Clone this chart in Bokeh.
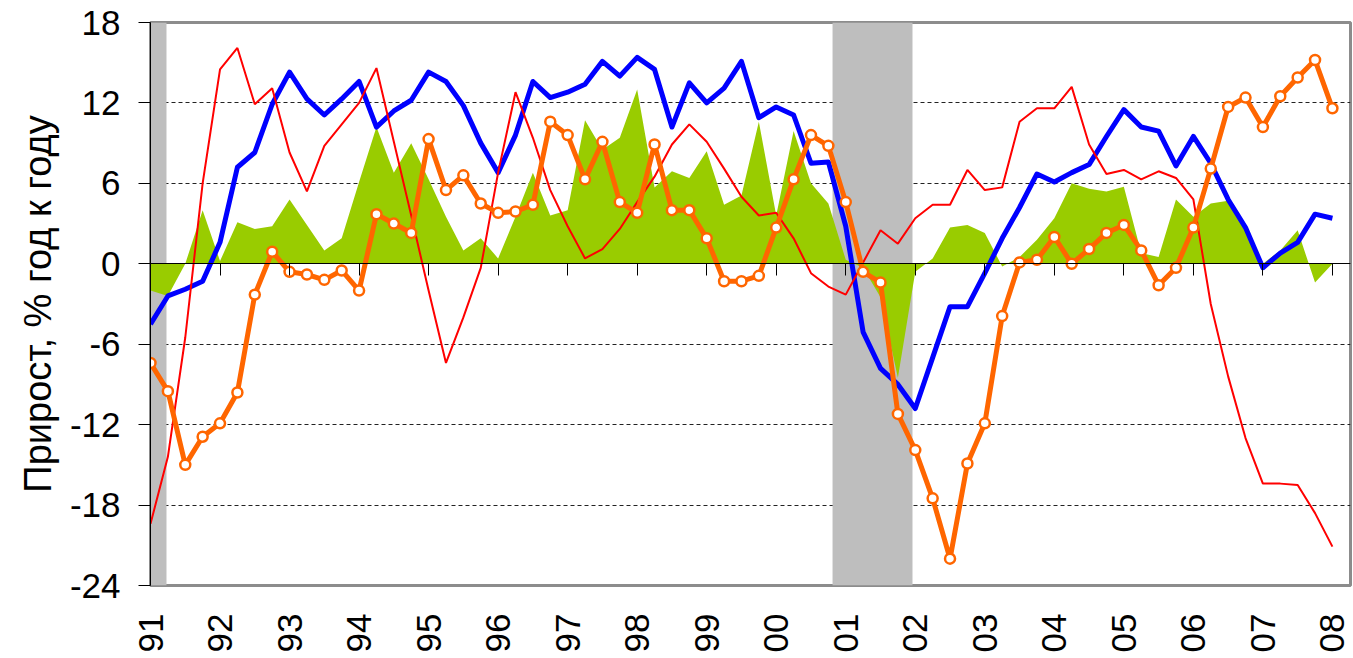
import math
from bokeh.plotting import figure
from bokeh.models import Range1d, FixedTicker, LinearAxis, BoxAnnotation
from bokeh.embed import file_html
from bokeh.resources import INLINE

# ---- data ----
year_ticks = list(range(1991, 2009))
year_labels = ["91", "92", "93", "94", "95", "96", "97", "98", "99", "00",
               "01", "02", "03", "04", "05", "06", "07", "08"]
y_ticks = [-24, -18, -12, -6, 0, 6, 12, 18]
y_labels = ["-24", "-18", "-12", "-6", "0", "6", "12", "18"]

recession_start = [1991.0, 2000.81]
recession_end = [1991.23, 2001.96]

green = [-2.0, -2.4, 0.0, 4.0, 0.2, 3.1, 2.6, 2.8, 4.8, 2.9, 1.0, 1.9, 6.1, 10.2,
         6.8, 9.0, 6.3, 3.5, 1.0, 1.9, 0.4, 3.5, 6.8, 3.6, 4.0, 10.7, 8.5, 9.4,
         13.0, 5.7, 6.9, 6.4, 8.4, 4.4, 5.1, 10.6, 3.6, 9.9, 6.0, 4.5, 0.3, -0.3,
         -2.5, -8.5, -0.6, 0.4, 2.7, 2.9, 2.3, -0.2, 0.5, 1.8, 3.4, 6.0, 5.6, 5.4,
         5.75, 0.8, 0.5, 4.8, 3.5, 4.5, 4.7, 2.6, 0.0, 1.0, 2.5, -1.4, 0.0]

blue = [-4.5, -2.4, -1.9, -1.3, 1.6, 7.2, 8.3, 11.9, 14.3, 12.3, 11.1, 12.3, 13.6, 10.2,
        11.4, 12.2, 14.3, 13.6, 11.8, 9.0, 6.8, 9.6, 13.6, 12.4, 12.8, 13.4, 15.1, 14.0,
        15.4, 14.5, 10.2, 13.5, 12.0, 13.1, 15.1, 10.9, 11.7, 11.1, 7.5, 7.6, 2.8, -5.1,
        -7.8, -9.0, -10.8, -7.0, -3.2, -3.2, -0.7, 1.9, 4.2, 6.7, 6.1, 6.8, 7.4, 9.5,
        11.5, 10.2, 9.9, 7.3, 9.5, 7.5, 4.8, 2.7, -0.3, 0.8, 1.6, 3.7, 3.4]

red = [-19.4, -14.4, -5.5, 6.0, 14.5, 16.1, 11.9, 13.1, 8.3, 5.4, 8.8, 10.4, 12.0, 14.6,
       9.1, 3.6, -2.0, -7.4, -4.0, -0.3, 6.8, 12.8, 9.4, 5.5, 2.8, 0.4, 1.1, 2.6,
       4.6, 6.5, 8.9, 10.4, 9.1, 7.1, 5.0, 3.6, 3.8, 1.9, -0.7, -1.7, -2.3, 0.1,
       2.5, 1.5, 3.4, 4.4, 4.4, 7.0, 5.5, 5.7, 10.6, 11.6, 11.6, 13.2, 8.9, 6.7,
       7.0, 6.3, 6.9, 6.4, 4.8, -3.0, -8.4, -13.0, -16.4, -16.4, -16.5, -18.6, -21.1]

orange = [-7.4, -9.5, -15.0, -12.9, -11.9, -9.6, -2.3, 0.9, -0.6, -0.8, -1.2, -0.5, -2.0, 3.7,
          3.0, 2.3, 9.3, 5.5, 6.6, 4.5, 3.8, 3.9, 4.4, 10.6, 9.6, 6.3, 9.1, 4.6,
          3.8, 8.9, 4.0, 4.0, 1.9, -1.3, -1.3, -0.9, 2.7, 6.3, 9.6, 8.8, 4.6, -0.6,
          -1.4, -11.2, -13.9, -17.5, -22.0, -14.9, -11.9, -3.9, 0.1, 0.3, 2.0, 0.0, 1.1, 2.3,
          2.9, 1.0, -1.6, -0.3, 2.7, 7.1, 11.7, 12.4, 10.2, 12.5, 13.9, 15.2, 11.6]

quarter = [1991 + k / 4 for k in range(len(blue))]

FONT = "Liberation Sans"

p = figure(width=1352, height=656, output_backend="svg", toolbar_location=None,
           x_range=Range1d(1991.0, 2008.26), y_range=Range1d(y_ticks[0], y_ticks[-1]),
           min_border_left=150, min_border_right=2, min_border_top=22, min_border_bottom=71,
           background_fill_color="white", border_fill_color="white")

p.outline_line_color = "#8c8c8c"
p.outline_line_width = 3

# recession bands
for s, e in zip(recession_start, recession_end):
    p.add_layout(BoxAnnotation(left=s, right=e, fill_color="#BEBEBE", fill_alpha=1.0,
                               line_color=None, level="underlay"))

# grid
p.xgrid.grid_line_color = None
p.ygrid.grid_line_color = "#222222"
p.ygrid.grid_line_dash = "4 3"
p.ygrid.grid_line_width = 1

# series
p.varea(x=quarter, y1=0, y2=green, fill_color="#99CC00")
p.line(quarter, blue, line_color="#0000FF", line_width=5, line_join="round")
p.line(quarter, red, line_color="#FF0000", line_width=2)
p.line(quarter, orange, line_color="#FF6600", line_width=5, line_join="round")
p.scatter(quarter, orange, size=10, fill_color="white", line_color="#FF6600", line_width=2.5)

# y axis
yax = p.yaxis[0]
yax.ticker = FixedTicker(ticks=y_ticks)
yax.major_label_overrides = {t: lab for t, lab in zip(y_ticks, y_labels)}
yax.major_tick_out = 12
yax.major_tick_in = 0
yax.minor_tick_line_color = None
yax.axis_line_color = "black"
yax.major_tick_line_color = "black"
yax.major_label_text_font = FONT
yax.major_label_text_font_size = "35px"
yax.major_label_text_color = "black"
yax.major_label_standoff = 18
yax.axis_label = "Прирост, % год к году"
yax.axis_label_text_font = FONT
yax.axis_label_text_font_size = "38px"
yax.axis_label_text_font_style = "normal"
yax.axis_label_text_color = "black"
yax.axis_label_standoff = 8

# bottom labels axis
xax = p.xaxis[0]
xax.ticker = FixedTicker(ticks=year_ticks)
xax.major_label_overrides = {t: lab for t, lab in zip(year_ticks, year_labels)}
xax.major_label_orientation = math.pi / 2
xax.axis_line_color = None
xax.major_tick_line_color = None
xax.minor_tick_line_color = None
xax.major_tick_out = 0
xax.major_tick_in = 0
xax.major_label_standoff = 28
xax.major_label_text_font = FONT
xax.major_label_text_font_size = "35px"
xax.major_label_text_color = "black"

# zero line axis with ticks
zero_axis = LinearAxis(fixed_location=0, ticker=FixedTicker(ticks=year_ticks),
                       major_tick_out=12, major_tick_in=0,
                       minor_tick_line_color=None, axis_line_color="black",
                       major_tick_line_color="black",
                       major_label_overrides={t: "" for t in year_ticks})
p.add_layout(zero_axis, "below")

open("out.html", "w").write(file_html(p, INLINE))
